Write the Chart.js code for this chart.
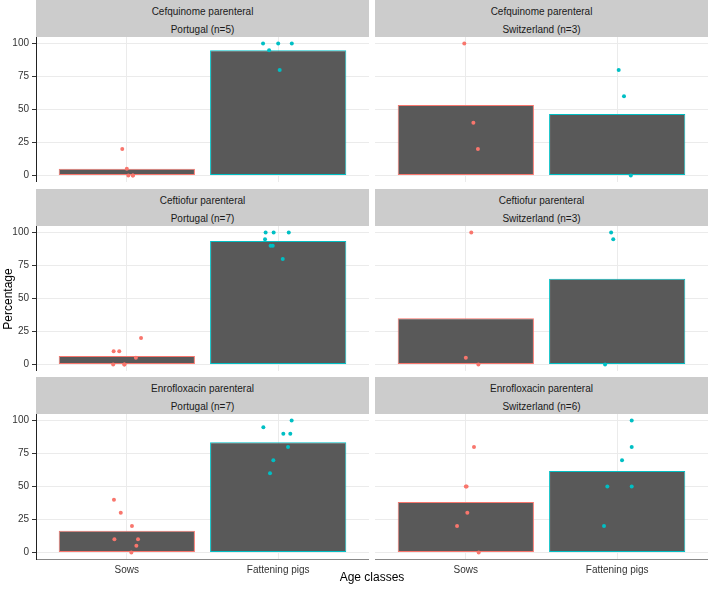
<!DOCTYPE html>
<html>
<head>
<meta charset="utf-8">
<script src="https://cdn.jsdelivr.net/npm/chart.js@4"></script>
<style>
body { margin: 0; background: #fff; }
#fig { position: relative; width: 708px; height: 590px; font-family: "Liberation Sans", Arial, sans-serif; }
.strip { position: absolute; height: 37px; background: #cccccc; color: #1a1a1a; font-size: 10px; }
.strip div { position: absolute; left: 0; right: 0; text-align: center; line-height: 12px; }
.panel { position: absolute; }
.axtitle { position: absolute; color: #000; font-size: 12px; line-height: 14px; text-align: center; }
</style>
</head>
<body>
<div id="fig"></div>
<script>
const ageClasses = ['Sows', 'Fattening pigs'];
const drugs = ['Cefquinome parenteral', 'Ceftiofur parenteral', 'Enrofloxacin parenteral'];
const countries = ['Portugal', 'Switzerland'];
const nPortugal = [5, 7, 7];
const nSwitzerland = [3, 3, 6];

// per-herd percentages
const cefquinomePtSows = [20, 5, 0, 0, 0];
const cefquinomePtFat = [100, 100, 100, 95, 80];
const cefquinomeChSows = [100, 40, 20];
const cefquinomeChFat = [80, 60, 0];
const ceftiofurPtSows = [20, 10, 10, 5, 0, 0, 0];
const ceftiofurPtFat = [100, 100, 100, 95, 90, 90, 80];
const ceftiofurChSows = [100, 5, 0];
const ceftiofurChFat = [100, 95, 0];
const enrofloxacinPtSows = [40, 30, 20, 10, 10, 5, 0];
const enrofloxacinPtFat = [100, 95, 90, 90, 80, 70, 60];
const enrofloxacinChSows = [80, 50, 50, 30, 20, 0];
const enrofloxacinChFat = [100, 80, 70, 50, 50, 20];

// horizontal jitter of each point (category units)
const cefquinomePtSowsJit = [-0.03, 0, 0.01, 0.04, 0.04];
const cefquinomePtFatJit = [-0.1, 0, 0.09, -0.06, 0.01];
const cefquinomeChSowsJit = [-0.01, 0.05, 0.08];
const cefquinomeChFatJit = [0.01, 0.045, 0.09];
const ceftiofurPtSowsJit = [0.094, -0.087, -0.05, 0.06, -0.09, -0.016, -0.016];
const ceftiofurPtFatJit = [-0.083, -0.03, 0.07, -0.087, -0.05, -0.036, 0.03];
const ceftiofurChSowsJit = [0.036, 0, 0.083];
const ceftiofurChFatJit = [-0.04, -0.026, -0.08];
const enrofloxacinPtSowsJit = [-0.085, -0.04, 0.034, -0.082, 0.074, 0.063, 0.03];
const enrofloxacinPtFatJit = [0.089, -0.098, 0.034, 0.08, 0.065, -0.032, -0.054];
const enrofloxacinChSowsJit = [0.054, 0, 0.005, 0.01, -0.058, 0.085];
const enrofloxacinChFatJit = [0.096, 0.096, 0.032, -0.065, 0.096, -0.087];

const yTicks = [0, 25, 50, 75, 100];

const RED = '#F8766D';
const CYAN = '#00BFC4';
const rowTop = [0, 189, 377];
const colLeft = [0, 375];

const fig = document.getElementById('fig');

function mean(a) {
    return a.reduce((s, v) => s + v, 0) / a.length;
}

function noPad(s) {
    s.paddingTop = 0;
    s.paddingBottom = 0;
    s.paddingLeft = 0;
    s.paddingRight = 0;
}

function makePanel(row, col, sows, sowsJit, fat, fatJit) {
    const isLeft = col === 0;
    const isBottom = row === 2;
    const n = col === 0 ? nPortugal[row] : nSwitzerland[row];

    // strip label
    const strip = document.createElement('div');
    strip.className = 'strip';
    strip.style.top = rowTop[row] + 'px';
    strip.style.left = (isLeft ? 36 : 375) + 'px';
    strip.style.width = '333px';
    strip.innerHTML = '<div style="top:6px">' + drugs[row] + '</div>' +
        '<div style="top:24px">' + countries[col] + ' (n=' + n + ')</div>';
    fig.appendChild(strip);

    const canvas = document.createElement('canvas');
    canvas.className = 'panel';
    const w = isLeft ? 369 : 333;
    const h = isBottom ? 167 : 145;
    canvas.width = w;
    canvas.height = h;
    canvas.style.left = colLeft[col] + 'px';
    canvas.style.top = (rowTop[row] + 37) + 'px';
    fig.appendChild(canvas);

    new Chart(canvas.getContext('2d'), {
        data: {
            datasets: [
                {
                    type: 'bar',
                    data: [{ x: 1, y: mean(sows) }, { x: 2, y: mean(fat) }],
                    backgroundColor: '#595959',
                    borderColor: [RED, CYAN],
                    borderWidth: 1,
                    borderSkipped: false,
                    barPercentage: 0.9,
                    categoryPercentage: 1,
                    order: 2
                },
                {
                    type: 'scatter',
                    data: sows.map((v, i) => ({ x: 1 + sowsJit[i], y: v })),
                    backgroundColor: RED,
                    borderWidth: 0,
                    pointRadius: 2,
                    order: 1
                },
                {
                    type: 'scatter',
                    data: fat.map((v, i) => ({ x: 2 + fatJit[i], y: v })),
                    backgroundColor: CYAN,
                    borderWidth: 0,
                    pointRadius: 2,
                    order: 1
                }
            ]
        },
        options: {
            responsive: false,
            animation: false,
            layout: { padding: 0, autoPadding: false },
            plugins: { legend: { display: false }, tooltip: { enabled: false } },
            scales: {
                x: {
                    type: 'linear',
                    min: 0.4,
                    max: 2.6,
                    offset: false,
                    afterBuildTicks: s => { s.ticks = [{ value: 1 }, { value: 2 }]; },
                    afterFit: s => { s.height = isBottom ? 22 : 0; noPad(s); },
                    ticks: {
                        display: isBottom,
                        callback: v => ageClasses[v - 1],
                        color: '#333',
                        font: { family: 'Liberation Sans', size: 10 },
                        padding: 5,
                        maxRotation: 0
                    },
                    grid: { color: '#ebebeb', lineWidth: 1, offset: false, drawTicks: false },
                    border: { display: isBottom, color: '#888', width: 1 }
                },
                y: {
                    min: -5,
                    max: 105,
                    afterBuildTicks: s => { s.ticks = yTicks.map(v => ({ value: v })); },
                    afterFit: s => { s.width = isLeft ? 36 : 0; noPad(s); },
                    ticks: {
                        display: isLeft,
                        color: '#333',
                        font: { family: 'Liberation Sans', size: 10 },
                        padding: 3
                    },
                    grid: { color: '#ebebeb', lineWidth: 1, drawTicks: isLeft, tickLength: 4, tickColor: '#333' },
                    border: { display: isLeft, color: '#222', width: 1 }
                }
            }
        }
    });
}

makePanel(0, 0, cefquinomePtSows, cefquinomePtSowsJit, cefquinomePtFat, cefquinomePtFatJit);
makePanel(0, 1, cefquinomeChSows, cefquinomeChSowsJit, cefquinomeChFat, cefquinomeChFatJit);
makePanel(1, 0, ceftiofurPtSows, ceftiofurPtSowsJit, ceftiofurPtFat, ceftiofurPtFatJit);
makePanel(1, 1, ceftiofurChSows, ceftiofurChSowsJit, ceftiofurChFat, ceftiofurChFatJit);
makePanel(2, 0, enrofloxacinPtSows, enrofloxacinPtSowsJit, enrofloxacinPtFat, enrofloxacinPtFatJit);
makePanel(2, 1, enrofloxacinChSows, enrofloxacinChSowsJit, enrofloxacinChFat, enrofloxacinChFatJit);

// axis titles
const yTitle = document.createElement('div');
yTitle.className = 'axtitle';
yTitle.textContent = 'Percentage';
yTitle.style.width = '100px';
yTitle.style.left = (8 - 50) + 'px';
yTitle.style.top = (299 - 7) + 'px';
yTitle.style.transform = 'rotate(-90deg)';
fig.appendChild(yTitle);

const xTitle = document.createElement('div');
xTitle.className = 'axtitle';
xTitle.textContent = 'Age classes';
xTitle.style.width = '200px';
xTitle.style.left = (372 - 100) + 'px';
xTitle.style.top = (577 - 7) + 'px';
fig.appendChild(xTitle);
</script>
</body>
</html>
